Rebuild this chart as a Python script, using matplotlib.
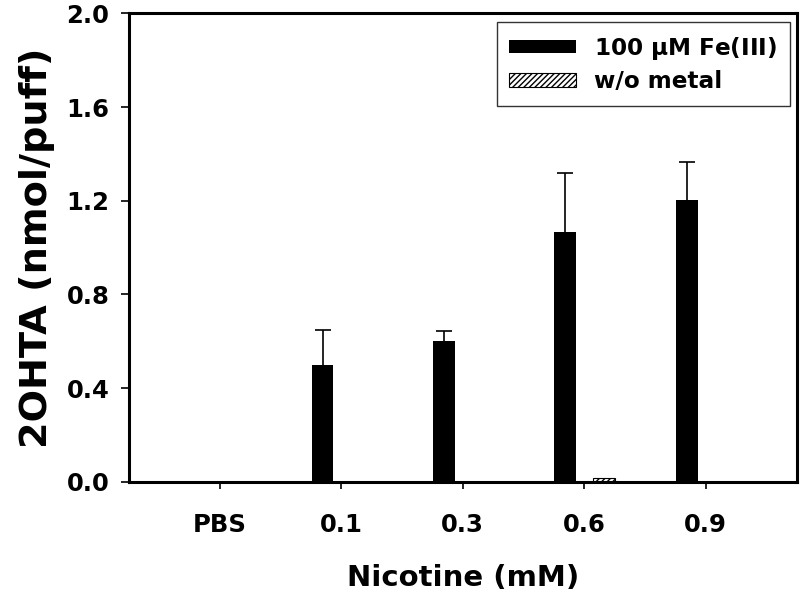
import matplotlib
matplotlib.use("Agg")
import matplotlib.pyplot as plt
import numpy as np

# data
categories = ["PBS", "0.1", "0.3", "0.6", "0.9"]
fe_values = [0.0, 0.50, 0.60, 1.065, 1.205]
fe_errors = [0.0, 0.15, 0.045, 0.255, 0.16]
nometal_values = [0.0, 0.0, 0.0, 0.015, 0.0]

plt.rcParams['font.family'] = ['DejaVu Sans']
plt.rcParams['font.weight'] = 'bold'
plt.rcParams['mathtext.default'] = 'bf'
plt.rcParams['hatch.linewidth'] = 1.0

fig = plt.figure(figsize=(8, 6.03), dpi=100)
ax = fig.add_axes([0.161, 0.2007, 0.835, 0.7773])

x = np.arange(len(categories))
w = 0.18
ax.bar(x - 0.155, fe_values, w, color="black", label=r"100 $\mu$M Fe(III)")
ax.bar(x + 0.16, nometal_values, w, color="white", edgecolor="black",
       hatch="//////", linewidth=0.8, label="w/o metal")
# upper error bars only
eb = ax.errorbar(x - 0.155, fe_values, yerr=[np.zeros(len(x)), fe_errors], fmt="none",
                 ecolor="black", elinewidth=1.2, capsize=5.5, capthick=1.2)
eb[1][0].set_visible(False)  # hide the lower caps sitting on the bar tops

ax.set_xlim(-0.75, 4.75)
ax.set_ylim(0, 2.0)
ax.set_yticks([0.0, 0.4, 0.8, 1.2, 1.6, 2.0])
ax.set_yticklabels(["0.0", "0.4", "0.8", "1.2", "1.6", "2.0"])
ax.set_xticks(x)
ax.set_xticklabels(categories)
ax.tick_params(axis="both", labelsize=17.5, direction="out", width=1.2)
ax.tick_params(axis="y", length=6, pad=8)
ax.tick_params(axis="x", length=5, pad=17)
for s in ax.spines.values():
    s.set_linewidth(2.2)

ax.set_xlabel("Nicotine (mM)", fontsize=21, fontweight="bold", labelpad=20)
ax.set_ylabel("2OHTA (nmol/puff)", fontsize=27.5, fontweight="bold", labelpad=8)

leg = ax.legend(loc="upper right", bbox_to_anchor=(0.9895, 0.981), borderaxespad=0,
                fontsize=16.7, frameon=True, fancybox=False, edgecolor="black",
                handlelength=2.88, handleheight=0.52, borderpad=0.55,
                labelspacing=0.35, handletextpad=0.77)
leg.get_frame().set_linewidth(1.0)

fig.savefig("out.png", dpi=100)
